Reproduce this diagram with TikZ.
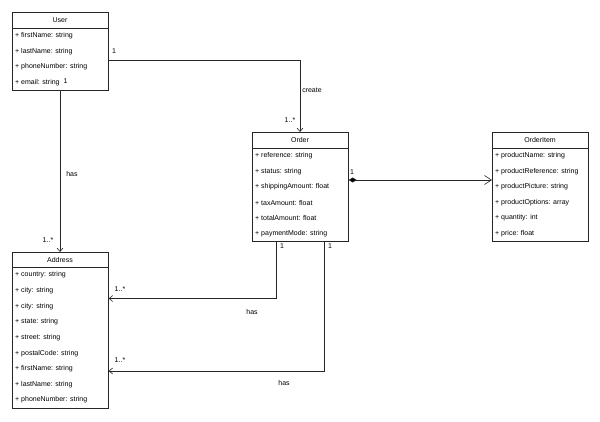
\documentclass[tikz,border=0pt]{standalone}
\usepackage{fontspec}
\setmainfont{Liberation Sans}
\usetikzlibrary{arrows.meta,calc}
\begin{document}
\begin{tikzpicture}[x=1pt,y=-1pt,
  box/.style={draw=black!85, line width=0.7pt, anchor=north west, minimum width=96pt, inner sep=0pt, fill=white},
  attr/.style={anchor=west, font=\fontsize{7}{8}\selectfont, inner sep=0pt},
  ttl/.style={font=\fontsize{7}{8}\selectfont, inner sep=0pt},
  lbl/.style={font=\fontsize{7}{8}\selectfont, inner sep=0pt},
  conn/.style={draw=black!85, line width=0.6pt, -{Straight Barb[length=3.5pt,width=6pt]}},
  comp/.style={draw=black!85, line width=0.6pt, {Diamond[fill=black,length=8pt,width=5pt]}-{Straight Barb[length=7pt,width=9pt]}},
  sep/.style={draw=black!85, line width=0.7pt}]
\useasboundingbox[fill=white] (0,0) rectangle (600,422);

% User
\node[box, minimum height=78pt] (user) at (12,12) {};
\draw[sep] ($(user.north west)+(0,16)$) -- ($(user.north east)+(0,16)$);
\node[ttl] (userT) at (60,20) {User};
\node[attr] (u1) at (15,35.5) {+ firstName: string};
\node[attr] (u2) at (15,51.5) {+ lastName: string};
\node[attr] (u3) at (15,67) {+ phoneNumber: string};
\node[attr] (u4) at (15,82.5) {+ email: string};

% Order
\node[box, minimum height=109pt] (order) at (252,132) {};
\draw[sep] ($(order.north west)+(0,16)$) -- ($(order.north east)+(0,16)$);
\node[ttl] (orderT) at (300,140) {Order};
\node[attr] (o1) at (255,155.5) {+ reference: string};
\node[attr] (o2) at (255,171.5) {+ status: string};
\node[attr] (o3) at (255,187) {+ shippingAmount: float};
\node[attr] (o4) at (255,202.5) {+ taxAmount: float};
\node[attr] (o5) at (255,218) {+ totalAmount: float};
\node[attr] (o6) at (255,233.5) {+ paymentMode: string};

% OrderItem
\node[box, minimum height=109pt] (item) at (492,132) {};
\draw[sep] ($(item.north west)+(0,16)$) -- ($(item.north east)+(0,16)$);
\node[ttl] (itemT) at (540,140) {OrderItem};
\node[attr] (i1) at (495,155.5) {+ productName: string};
\node[attr] (i2) at (495,171.5) {+ productReference: string};
\node[attr] (i3) at (495,187) {+ productPicture: string};
\node[attr] (i4) at (495,202.5) {+ productOptions: array};
\node[attr] (i5) at (495,218) {+ quantity: int};
\node[attr] (i6) at (495,233.5) {+ price: float};

% Address
\node[box, minimum height=156pt] (addr) at (12,252) {};
\draw[sep] ($(addr.north west)+(0,15)$) -- ($(addr.north east)+(0,15)$);
\node[ttl] (addrT) at (60,260) {Address};
\node[attr] (a1) at (15,275) {+ country: string};
\node[attr] (a2) at (15,291) {+ city: string};
\node[attr] (a3) at (15,306.5) {+ city: string};
\node[attr] (a4) at (15,322) {+ state: string};
\node[attr] (a5) at (15,338) {+ street: string};
\node[attr] (a6) at (15,353.5) {+ postalCode: string};
\node[attr] (a7) at (15,369) {+ firstName: string};
\node[attr] (a8) at (15,384.5) {+ lastName: string};
\node[attr] (a9) at (15,400) {+ phoneNumber: string};

% connectors
\draw[conn] ($(user.north east)+(0,48)$) -| ($(order.north west)+(48,0)$);
\node[lbl] (l1) at (114,51) {1};
\node[lbl] (l2) at (312,90) {create};
\node[lbl] (l3) at (290,120) {1..*};

\draw[conn] ($(user.south west)+(48,0)$) -- ($(addr.north west)+(48,0)$);
\node[lbl] (l4) at (65.5,81.5) {1};
\node[lbl] (l5) at (72,174) {has};
\node[lbl] (l6) at (48,240) {1..*};

\draw[comp] ($(order.north east)+(0,48)$) -- ($(item.north west)+(0,48)$);
\node[lbl] (l7) at (352,172) {1};

\draw[conn] ($(order.south west)+(24,0)$) |- ($(addr.north east)+(0,46.5)$);
\node[lbl] (l8) at (282,246) {1};
\node[lbl] (l9) at (120,289) {1..*};
\node[lbl] (l10) at (252,312) {has};

\draw[conn] ($(order.south west)+(72,0)$) |- ($(addr.north east)+(0,119)$);
\node[lbl] (l11) at (330,246) {1};
\node[lbl] (l12) at (120,360) {1..*};
\node[lbl] (l13) at (284,383) {has};
\end{tikzpicture}
\end{document}
